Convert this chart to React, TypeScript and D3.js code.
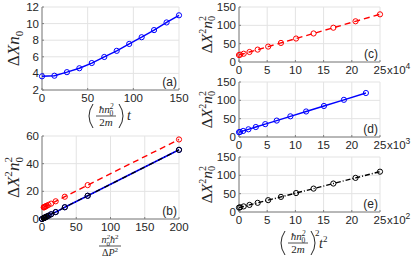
import React from "react"
import * as d3 from "d3"

const W = 415
const H = 261
const TICK_FONT = "'Liberation Sans', Arial, Helvetica, sans-serif"
const MATH_FONT = "'Liberation Serif', 'DejaVu Serif', serif"
const INK = "#262626"

// (a) width vs time
const tA = [0, 13.6, 27.3, 40.9, 54.5, 68.2, 81.8, 95.5, 109.1, 122.7, 136.4, 150]
const dxA = [3.65, 3.72, 4.15, 4.62, 5.25, 5.98, 6.72, 7.55, 8.36, 9.22, 10.14, 11.0]

// (b) width^2 vs n0^2 hbar^2 / dP^2
const pB = [2.5, 3.0, 3.6, 4.4, 5.6, 7.1, 9.5, 13.3, 20, 33.3, 66.7, 200]
const redB = [8.4, 8.5, 8.7, 8.9, 9.2, 9.6, 10.2, 11.1, 12.8, 16.1, 24.5, 57.5]
const blueB = [0.6, 0.8, 0.9, 1.1, 1.4, 1.8, 2.4, 3.4, 5.0, 8.5, 16.8, 50]

// (c) x10^4
const xC = [0, 0.21, 0.83, 1.86, 3.31, 5.17, 7.44, 10.12, 13.22, 16.73, 20.66, 25]
const yC = [19, 20, 22.6, 27.3, 33.8, 42, 52, 64, 77.8, 93.5, 111, 130]

// (d) x10^3
const xD = [0, 0.19, 0.74, 1.67, 2.98, 4.65, 6.69, 9.11, 11.9, 15.06, 18.6, 22.5]
const yD = [13, 13.9, 16.5, 21, 27.2, 35.1, 44.8, 56.4, 69.6, 84.6, 101.4, 120]

// (e) x10^2
const xE = [0, 0.21, 0.83, 1.86, 3.31, 5.17, 7.44, 10.12, 13.22, 16.73, 20.66, 25]
const yE = [12, 12.8, 15.3, 19.3, 25, 32.3, 41.2, 51.7, 63.8, 77.6, 93, 110]

const ticksAx = [0, 50, 100, 150]
const ticksAy = [2, 4, 6, 8, 10, 12]
const ticksBx = [0, 50, 100, 150, 200]
const ticksBy = [0, 20, 40, 60]
const ticksRx = [0, 5, 10, 15, 20, 25]
const ticksRy = [0, 50, 100, 150]

type Box = { left: number; right: number; top: number; bottom: number }
type Scale = d3.ScaleLinear<number, number>

const boxA: Box = { left: 42, right: 179, top: 7, bottom: 90 }
const boxB: Box = { left: 42, right: 179, top: 136, bottom: 219 }
const boxC: Box = { left: 239, right: 380, top: 7, bottom: 62 }
const boxD: Box = { left: 239, right: 380, top: 82, bottom: 137 }
const boxE: Box = { left: 239, right: 380, top: 157, bottom: 212 }

function Axes(props: {
  box: Box
  x: Scale
  y: Scale
  xTicks: number[]
  yTicks: number[]
  tag: string
  exp?: string
  children?: React.ReactNode
}) {
  const { box, x, y, xTicks, yTicks, tag, exp, children } = props
  return (
    <g>
      {xTicks.map((t) => (
        <line key={"gx" + t} x1={x(t)} x2={x(t)} y1={box.top} y2={box.bottom} stroke="#e3e3e3" />
      ))}
      {yTicks.map((t) => (
        <line key={"gy" + t} x1={box.left} x2={box.right} y1={y(t)} y2={y(t)} stroke="#e3e3e3" />
      ))}
      <line x1={box.left} x2={box.left} y1={box.top} y2={box.bottom} stroke="#7f7f7f" />
      <line x1={box.left} x2={box.right} y1={box.bottom} y2={box.bottom} stroke="#7f7f7f" />
      {xTicks.map((t) => (
        <line key={"tx" + t} x1={x(t)} x2={x(t)} y1={box.bottom} y2={box.bottom - 2} stroke="#7f7f7f" />
      ))}
      {yTicks.map((t) => (
        <line key={"ty" + t} x1={box.left} x2={box.left + 2} y1={y(t)} y2={y(t)} stroke="#7f7f7f" />
      ))}
      {children}
      <g fontFamily={TICK_FONT} fontSize={11.5} fill={INK}>
        {xTicks.map((t) => (
          <text key={"lx" + t} x={x(t)} y={box.bottom + 12} textAnchor="middle">{t}</text>
        ))}
        {yTicks.map((t) => (
          <text key={"ly" + t} x={box.left - 3} y={y(t) + 4} textAnchor="end">{t}</text>
        ))}
        {exp && (
          <text x={box.right + 7} y={box.bottom + 12}>
            x10<tspan fontSize={8.5} dy={-5}>{exp}</tspan>
          </text>
        )}
        <text x={box.right - 2} y={box.bottom - 4} textAnchor="end" fontSize={12}>{tag}</text>
      </g>
    </g>
  )
}

function Series(props: {
  x: Scale
  y: Scale
  xs: number[]
  ys: number[]
  color: string
  dash?: string
  width?: number
}) {
  const { x, y, xs, ys, color, dash, width } = props
  const pts = xs.map((v, i) => [v, ys[i]] as [number, number])
  const line = d3.line<[number, number]>().x((d) => x(d[0])).y((d) => y(d[1]))
  return (
    <g>
      <path d={line(pts) || ""} fill="none" stroke={color} strokeWidth={width ?? 1.4} strokeDasharray={dash} />
      {pts.map((d, i) => (
        <circle key={i} cx={x(d[0])} cy={y(d[1])} r={2.6} fill="none" stroke={color} strokeWidth={1} />
      ))}
    </g>
  )
}

// rotated y label: ΔX n0 or ΔX^2 n0^2
function YLabel({ x, cy, squared, size }: { x: number; cy: number; squared: boolean; size: number }) {
  const s = size * 0.65
  return (
    <text
      transform={`translate(${x},${cy}) rotate(-90)`}
      textAnchor="middle"
      fontFamily={MATH_FONT}
      fontSize={size}
      fill={INK}
    >
      Δ<tspan fontStyle="italic">X</tspan>
      {squared && <tspan fontSize={s} dy={-size * 0.4}>2</tspan>}
      <tspan fontStyle="italic" dy={squared ? size * 0.4 : 0}>n</tspan>
      {squared && <tspan fontSize={s} dy={-size * 0.4}>2</tspan>}
      <tspan fontSize={s} dx={squared ? -s * 0.5 : 0} dy={squared ? size * 0.62 : size * 0.22}>0</tspan>
    </text>
  )
}

function Paren({ x, top, bottom, left }: { x: number; top: number; bottom: number; left: boolean }) {
  const bulge = left ? -4 : 4
  const mid = (top + bottom) / 2
  return (
    <path
      d={`M${x},${top} Q${x + bulge * 2},${mid} ${x},${bottom}`}
      fill="none"
      stroke={INK}
      strokeWidth={1}
    />
  )
}

// (hbar n0^2 / 2m) fraction with parentheses
function TimeFactor({ cx, cy, power }: { cx: number; cy: number; power?: boolean }) {
  return (
    <g fontFamily={MATH_FONT} fill={INK}>
      <Paren x={cx - 13} top={cy - 12} bottom={cy + 12} left={true} />
      <text x={cx} y={cy - 3} textAnchor="middle" fontSize={11} fontStyle="italic">
        ħn<tspan fontSize={7.5} dy={-4}>2</tspan>
        <tspan fontSize={7.5} dx={-4} dy={7} fontStyle="normal">0</tspan>
      </text>
      <line x1={cx - 10} x2={cx + 10} y1={cy} y2={cy} stroke={INK} strokeWidth={0.8} />
      <text x={cx} y={cy + 10} textAnchor="middle" fontSize={11}>
        2<tspan fontStyle="italic">m</tspan>
      </text>
      <Paren x={cx + 13} top={cy - 12} bottom={cy + 12} left={false} />
      {power && (
        <text x={cx + 17} y={cy - 7} fontSize={9}>2</text>
      )}
    </g>
  )
}

export default function App() {
  const xa = d3.scaleLinear().domain([0, 150]).range([boxA.left, boxA.right])
  const ya = d3.scaleLinear().domain([2, 12]).range([boxA.bottom, boxA.top])
  const xb = d3.scaleLinear().domain([0, 200]).range([boxB.left, boxB.right])
  const yb = d3.scaleLinear().domain([0, 60]).range([boxB.bottom, boxB.top])
  const xc = d3.scaleLinear().domain([0, 25]).range([boxC.left, boxC.right])
  const yc = d3.scaleLinear().domain([0, 150]).range([boxC.bottom, boxC.top])
  const xd = d3.scaleLinear().domain([0, 25]).range([boxD.left, boxD.right])
  const yd = d3.scaleLinear().domain([0, 150]).range([boxD.bottom, boxD.top])
  const xe = d3.scaleLinear().domain([0, 25]).range([boxE.left, boxE.right])
  const ye = d3.scaleLinear().domain([0, 150]).range([boxE.bottom, boxE.top])

  const bOrigin = [0, ...pB]
  const bBlue = [0, ...blueB]

  return (
    <svg width={W} height={H} style={{ position: "absolute", left: 0, top: 0, background: "#fff" }}>
      <rect width={W} height={H} fill="#fff" />

      <Axes box={boxA} x={xa} y={ya} xTicks={ticksAx} yTicks={ticksAy} tag="(a)">
        <Series x={xa} y={ya} xs={tA} ys={dxA} color="#0000ff" />
      </Axes>

      <Axes box={boxB} x={xb} y={yb} xTicks={ticksBx} yTicks={ticksBy} tag="(b)">
        <Series x={xb} y={yb} xs={pB} ys={redB} color="#ff0000" dash="6,4" />
        <Series x={xb} y={yb} xs={bOrigin} ys={bBlue} color="#0000ff" width={1.6} />
        <Series x={xb} y={yb} xs={bOrigin} ys={bBlue} color="#000000" dash="5,2,1,2" width={1.2} />
      </Axes>

      <Axes box={boxC} x={xc} y={yc} xTicks={ticksRx} yTicks={ticksRy} tag="(c)" exp="4">
        <Series x={xc} y={yc} xs={xC} ys={yC} color="#ff0000" dash="6,4" />
      </Axes>

      <Axes box={boxD} x={xd} y={yd} xTicks={ticksRx} yTicks={ticksRy} tag="(d)" exp="3">
        <Series x={xd} y={yd} xs={xD} ys={yD} color="#0000ff" />
      </Axes>

      <Axes box={boxE} x={xe} y={ye} xTicks={ticksRx} yTicks={ticksRy} tag="(e)" exp="2">
        <Series x={xe} y={ye} xs={xE} ys={yE} color="#000000" dash="5,2,1,2" />
      </Axes>

      <YLabel x={19} cy={(boxA.top + boxA.bottom) / 2} squared={false} size={17} />
      <YLabel x={19} cy={(boxB.top + boxB.bottom) / 2} squared={true} size={17} />
      <YLabel x={212} cy={(boxC.top + boxC.bottom) / 2} squared={true} size={15.5} />
      <YLabel x={212} cy={(boxD.top + boxD.bottom) / 2} squared={true} size={15.5} />
      <YLabel x={212} cy={(boxE.top + boxE.bottom) / 2} squared={true} size={15.5} />

      {/* x label (a) */}
      <TimeFactor cx={106} cy={116} />
      <text x={127} y={120} fontFamily={MATH_FONT} fontSize={14} fontStyle="italic" fill={INK}>t</text>

      {/* x label (b) */}
      <g fontFamily={MATH_FONT} fill={INK}>
        <text x={110} y={243} textAnchor="middle" fontSize={10} fontStyle="italic">
          n<tspan fontSize={7} dy={-4}>2</tspan>
          <tspan fontSize={7} dx={-3.5} dy={7} fontStyle="normal">0</tspan>
          <tspan dy={-3}>ħ</tspan>
          <tspan fontSize={7} dy={-4} fontStyle="normal">2</tspan>
        </text>
        <line x1={99} x2={121} y1={246} y2={246} stroke={INK} strokeWidth={0.8} />
        <text x={110} y={256} textAnchor="middle" fontSize={10}>
          Δ<tspan fontStyle="italic">P</tspan>
          <tspan fontSize={7} dy={-4}>2</tspan>
        </text>
      </g>

      {/* x label (e) */}
      <TimeFactor cx={298} cy={243} power={true} />
      <text x={319} y={248} fontFamily={MATH_FONT} fontSize={14} fontStyle="italic" fill={INK}>
        t<tspan fontSize={9} dy={-6} fontStyle="normal">2</tspan>
      </text>
    </svg>
  )
}
